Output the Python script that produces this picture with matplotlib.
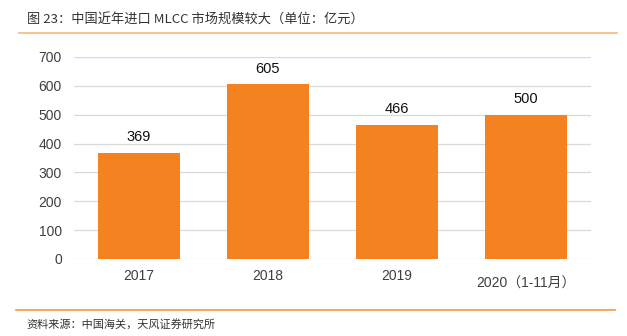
import matplotlib
matplotlib.use("Agg")
from matplotlib import pyplot as plt
from matplotlib.transforms import ScaledTranslation

plt.rcParams['font.family'] = ['Noto Sans CJK SC', 'DejaVu Sans']

years = ['2017', '2018', '2019', '2020（1-11月）']
imports = [369, 605, 466, 500]
yticks = [0, 100, 200, 300, 400, 500, 600, 700]

title = '图 23：中国近年进口 MLCC 市场规模较大（单位：亿元）'
source = '资料来源：中国海关，天风证券研究所'

fig = plt.figure(figsize=(6.27, 3.36), dpi=100)
ax = fig.add_axes([0.1188, 0.2292, 0.8230, 0.6012])

xs = range(len(years))
bars = ax.bar(xs, imports, width=0.63, color='#F58220', zorder=2)
for b, v in zip(bars, imports):
    ax.annotate(str(v), (b.get_x() + b.get_width() / 2, v), xytext=(0, 6),
                textcoords='offset points', ha='center', va='bottom',
                fontsize=10.5, color='#111111', family=['Liberation Sans', 'DejaVu Sans'])

ax.set_xlim(-0.5, len(years) - 0.5)
ax.set_ylim(0, 700)
ax.set_yticks(yticks)
ax.set_xticks(list(xs))
ax.set_xticklabels(years)
ax.grid(axis='y', color='#D9D9D9', linewidth=0.9, zorder=0)
for s in ax.spines.values():
    s.set_visible(False)
ax.tick_params(length=0, colors='#404040', labelsize=10)
ax.tick_params(axis='x', pad=7)
ax.tick_params(axis='y', pad=9)
for lab in ax.get_xticklabels() + ax.get_yticklabels():
    lab.set_family(['Liberation Sans', 'Noto Sans CJK SC'])

# the last category label sits a little lower in the original
last = ax.get_xticklabels()[-1]
last.set_transform(last.get_transform() + ScaledTranslation(0, -6 / 72, fig.dpi_scale_trans))

fig.text(0.043, 0.94, title, fontsize=9.5, color='#333333', va='center')
fig.add_artist(plt.Line2D([0.03, 0.984], [0.902, 0.902], color='#F9B77A', linewidth=1.2))
fig.add_artist(plt.Line2D([0.026, 0.981], [0.077, 0.077], color='#F39A3D', linewidth=1.2))
fig.text(0.043, 0.036, source, fontsize=8, color='#333333', va='center')

fig.savefig('out.png', dpi=100)
